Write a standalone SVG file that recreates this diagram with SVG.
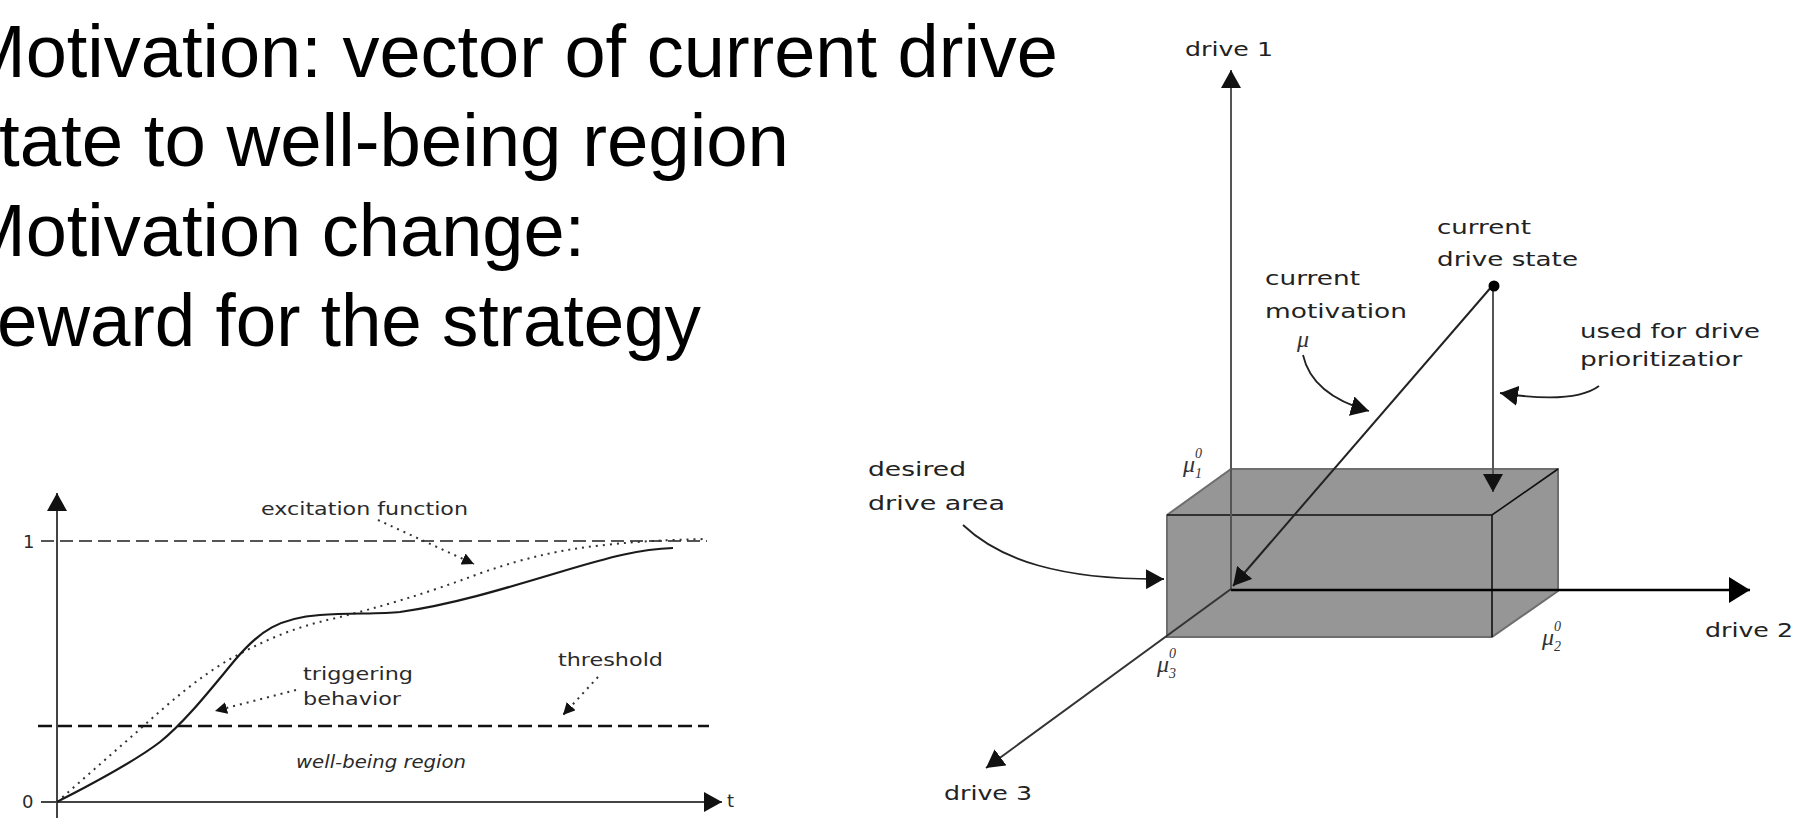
<svg xmlns="http://www.w3.org/2000/svg" width="1799" height="818" viewBox="0 0 1799 818">
  <style>
    .bullet { font-family: "Liberation Sans", Arial, sans-serif; font-size: 74px; fill: #000; }
    .lbl { font-family: "DejaVu Sans", Verdana, sans-serif; font-size: 20px; fill: #222; }
    .glbl { font-family: "DejaVu Sans", Verdana, sans-serif; font-size: 18px; fill: #2a2a2a; }
    .mu { font-family: "Liberation Serif", "DejaVu Serif", serif; font-style: italic; font-size: 24px; fill: #333; }
    .mus { font-family: "Liberation Serif", "DejaVu Serif", serif; font-style: italic; font-size: 14px; fill: #333; }
    .axis { fill: none; stroke: #444; stroke-width: 2; }
    .dots { fill: none; stroke: #333; stroke-width: 2; stroke-dasharray: 2 5; }
    .curve { fill: none; stroke: #1a1a1a; stroke-width: 2.2; }
    .lead { fill: none; stroke: #222; stroke-width: 1.8; }
  </style>
  <defs>
    <marker id="ah" viewBox="0 0 10 10" refX="10" refY="5" markerWidth="18" markerHeight="20" markerUnits="userSpaceOnUse" orient="auto" preserveAspectRatio="none">
      <path d="M0,0 L10,5 L0,10 z" fill="#111"/>
    </marker>
    <marker id="ahBig" viewBox="0 0 10 10" refX="10" refY="5" markerWidth="21" markerHeight="26" markerUnits="userSpaceOnUse" orient="auto" preserveAspectRatio="none">
      <path d="M0,0 L10,5 L0,10 z" fill="#000"/>
    </marker>
    <marker id="ahSmall" viewBox="0 0 10 10" refX="10" refY="5" markerWidth="12" markerHeight="12" markerUnits="userSpaceOnUse" orient="auto" preserveAspectRatio="none">
      <path d="M0,0 L10,5 L0,10 z" fill="#111"/>
    </marker>
  </defs>

  <rect width="1799" height="818" fill="#fff"/>

  <!-- bullet text -->
  <g id="bullets">
    <text class="bullet" x="-36" y="77">Motivation: vector of current drive</text>
    <text class="bullet" x="-1" y="166" textLength="790" lengthAdjust="spacingAndGlyphs">tate to well-being region</text>
    <text class="bullet" x="-36" y="256">Motivation change:</text>
    <text class="bullet" x="-3" y="346" textLength="704" lengthAdjust="spacingAndGlyphs">eward for the strategy</text>
  </g>

  <!-- excitation chart -->
  <g id="excitation-chart">
    <g id="chart-axes">
      <line class="axis" x1="57" y1="818" x2="57" y2="493" marker-end="url(#ah)"/>
      <line class="axis" x1="41" y1="802" x2="722" y2="802" stroke="#222" marker-end="url(#ah)"/>
      <text class="glbl" x="23" y="548">1</text>
      <text class="glbl" x="22" y="808">0</text>
      <text class="glbl" x="727" y="807" font-size="15">t</text>
    </g>
    <g id="level-one">
      <line x1="41" y1="541" x2="707" y2="541" stroke="#555" stroke-width="2" stroke-dasharray="13 6"/>
    </g>
    <g id="threshold-line">
      <line x1="38" y1="726" x2="709" y2="726" stroke="#111" stroke-width="2.5" stroke-dasharray="14 6"/>
    </g>
    <g id="excitation-curve">
      <path class="dots" d="M57,802 L139,730 C170,702 200,676 232,658 C262,642 290,628 336,618 C380,607 425,594 481,573 C530,556 565,549 605,545 C640,541 670,540 705,539"/>
    </g>
    <g id="behavior-curve">
      <path class="curve" d="M57,802 C80,790 130,765 160,742 C185,722 210,690 235,660 C260,630 280,618 320,615 C350,613 380,614 400,612 C450,605 500,590 560,572 C610,557 640,549 673,548"/>
    </g>
    <g id="label-excitation">
      <text class="glbl" x="261" y="515" textLength="207" lengthAdjust="spacingAndGlyphs">excitation function</text>
    </g>
    <g id="label-threshold">
      <text class="glbl" x="558" y="666" textLength="105" lengthAdjust="spacingAndGlyphs">threshold</text>
    </g>
    <g id="label-triggering">
      <text class="glbl" x="303" y="680" textLength="110" lengthAdjust="spacingAndGlyphs">triggering</text>
      <text class="glbl" x="303" y="705" textLength="98" lengthAdjust="spacingAndGlyphs">behavior</text>
    </g>
    <g id="label-wellbeing">
      <text class="glbl" x="296" y="768" font-style="italic" textLength="170" lengthAdjust="spacingAndGlyphs">well-being region</text>
    </g>
    <g id="chart-connectors">
      <path class="dots" d="M378,520 L474,564" marker-end="url(#ahSmall)"/>
      <path class="dots" d="M598,677 L563,715" marker-end="url(#ahSmall)"/>
      <path class="dots" d="M296,690 L215,711" marker-end="url(#ahSmall)"/>
    </g>
  </g>

  <!-- drive space -->
  <g id="drive-space">
    <g id="desired-box">
      <polygon points="1167,515 1231,469 1558,469 1558,591 1492,637 1167,637" fill="#969696" stroke="#6e6e6e" stroke-width="2"/>
      <polyline points="1167,515 1492,515 1558,469" fill="none" stroke="#111" stroke-width="1.6"/>
      <line x1="1492" y1="515" x2="1492" y2="637" stroke="#111" stroke-width="1.6"/>
    </g>

    <g id="connectors">
      <line x1="1231" y1="589" x2="1231" y2="70" stroke="#555" stroke-width="2" marker-end="url(#ah)"/>
      <line x1="1231" y1="590" x2="1750" y2="590" stroke="#000" stroke-width="2.5" marker-end="url(#ahBig)"/>
      <line x1="1231" y1="589" x2="986" y2="768" stroke="#333" stroke-width="2" marker-end="url(#ah)"/>
      <line x1="1493" y1="285" x2="1493" y2="492" stroke="#555" stroke-width="2" marker-end="url(#ah)"/>
      <line x1="1493" y1="285" x2="1233" y2="586" stroke="#222" stroke-width="2" marker-end="url(#ah)"/>
      <path class="lead" d="M1303,355 C1309,382 1330,400 1369,411" marker-end="url(#ah)"/>
      <path class="lead" d="M1599,386 C1580,400 1545,400 1500,393" marker-end="url(#ah)"/>
      <path class="lead" d="M963,525 C1000,560 1060,580 1164,579" marker-end="url(#ah)"/>
    </g>

    <g id="drive-state">
      <circle cx="1494" cy="286" r="5.5" fill="#000"/>
      <text class="lbl" x="1437" y="234" textLength="94" lengthAdjust="spacingAndGlyphs">current</text>
      <text class="lbl" x="1437" y="266" textLength="141" lengthAdjust="spacingAndGlyphs">drive state</text>
    </g>
    <g id="current-motivation">
      <text class="lbl" x="1265" y="285" textLength="95" lengthAdjust="spacingAndGlyphs">current</text>
      <text class="lbl" x="1265" y="318" textLength="142" lengthAdjust="spacingAndGlyphs">motivation</text>
      <text class="mu" x="1297" y="347">μ</text>
    </g>
    <g id="prioritization">
      <text class="lbl" x="1580" y="338" textLength="180" lengthAdjust="spacingAndGlyphs">used for drive</text>
      <text class="lbl" x="1580" y="366" textLength="162" lengthAdjust="spacingAndGlyphs">prioritizatior</text>
    </g>
    <g id="desired-area">
      <text class="lbl" x="868" y="476" textLength="98" lengthAdjust="spacingAndGlyphs">desired</text>
      <text class="lbl" x="868" y="510" textLength="137" lengthAdjust="spacingAndGlyphs">drive area</text>
    </g>
    <g id="axis-drive1">
      <text class="lbl" x="1185" y="56" textLength="88" lengthAdjust="spacingAndGlyphs">drive 1</text>
      <text class="mu" x="1183" y="472">μ<tspan class="mus" dx="0" dy="-14">0</tspan><tspan class="mus" dx="-7" dy="20">1</tspan></text>
    </g>
    <g id="axis-drive2">
      <text class="lbl" x="1705" y="637" textLength="88" lengthAdjust="spacingAndGlyphs">drive 2</text>
      <text class="mu" x="1542" y="645">μ<tspan class="mus" dx="0" dy="-14">0</tspan><tspan class="mus" dx="-7" dy="20">2</tspan></text>
    </g>
    <g id="axis-drive3">
      <text class="lbl" x="944" y="800" textLength="88" lengthAdjust="spacingAndGlyphs">drive 3</text>
      <text class="mu" x="1157" y="672">μ<tspan class="mus" dx="0" dy="-14">0</tspan><tspan class="mus" dx="-7" dy="20">3</tspan></text>
    </g>
  </g>
</svg>
